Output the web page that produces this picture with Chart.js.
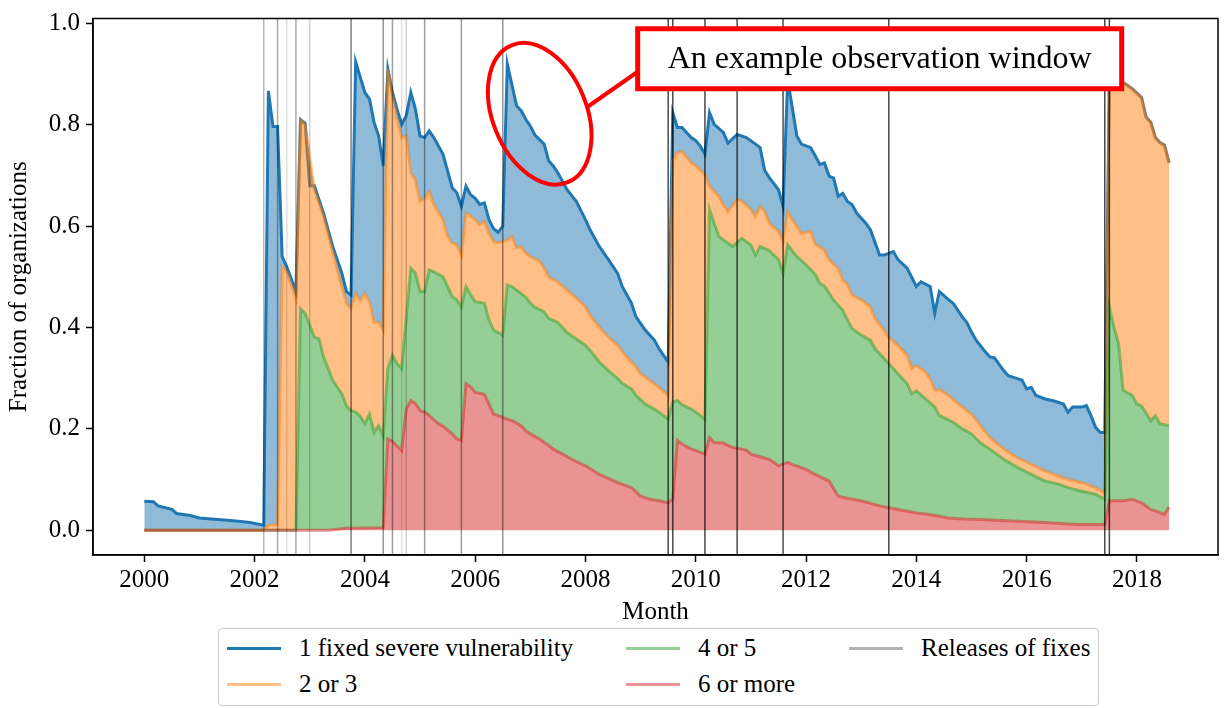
<!DOCTYPE html>
<html>
<head>
<meta charset="utf-8">
<script src="https://cdn.jsdelivr.net/npm/chart.js@4.4.0/dist/chart.umd.min.js"></script>
<style>
  body { margin: 0; background: #fff; }
  #wrap { position: relative; width: 1225px; height: 708px; }
  #legend {
    position: absolute; left: 218px; top: 628px; width: 881px; height: 78px;
    border: 1px solid #ccc; border-radius: 4px; box-sizing: border-box; background: #fff;
    font-family: "Liberation Serif", "Times New Roman", serif; font-size: 25px; color: #000;
  }
  .item { position: absolute; height: 30px; display: flex; align-items: center; white-space: nowrap;
          font-family: "Liberation Serif", "Times New Roman", serif; }
  .swatch { display: inline-block; width: 54px; height: 3px; margin-right: 18px; }
</style>
</head>
<body>
<div id="wrap">
  <canvas id="chart" width="1225" height="708"></canvas>
  <div id="legend"></div>
</div>
<script>
// month index counted from Jan 2000, value = fraction of organizations
var oneFixed = [
  [0,.057],[2,.056],[3,.048],[6,.041],[7,.033],[10,.029],[12,.024],[16,.021],[20,.018],[23,.015],[26,.010],
  [27,.867],[28,.797],[29,.797],[30,.54],[31,.52],[33,.471],[34,.81],[35,.803],[36,.68],[37,.68],[39,.626],[41,.56],[43,.507],[44,.471],[45,.464],
  [46,.924],[48,.864],[49,.851],[50,.805],[51,.778],[52,.719],[53,.91],[54,.864],[55,.831],[56,.801],[57,.818],[58,.864],[59,.831],[60,.778],[61,.775],[62,.788],[63,.775],[65,.742],[66,.709],[67,.676],[68,.666],[69,.639],[70,.679],[71,.662],[72,.655],[73,.643],[74,.646],[75,.613],[76,.595],[77,.588],[78,.6],
  [79,.92],[81,.838],[82,.828],[83,.811],[84,.798],[85,.78],[87,.762],[88,.729],[89,.719],[90,.705],[92,.672],[94,.649],[96,.613],[97,.593],[99,.56],[101,.534],[103,.507],[104,.481],[106,.448],[107,.421],[109,.395],[111,.375],[112,.358],[114,.332],
  [115,.824],[116,.795],[117,.795],[119,.775],[120,.769],[121,.758],[122,.742],[123,.824],[124,.801],[126,.785],[127,.764],[129,.781],[131,.775],[133,.762],[134,.755],[135,.71],[136,.696],[138,.672],[139,.639],
  [140,.89],[142,.778],[143,.762],[145,.755],[146,.739],[147,.722],[148,.725],[149,.699],[150,.695],[151,.659],[152,.665],[153,.649],[154,.643],[155,.626],[157,.606],[158,.593],[160,.543],[161,.543],[163,.55],[164,.534],[166,.517],[168,.481],[169,.49],[171,.481],[172,.428],[173,.471],[175,.455],[176,.448],[178,.421],[179,.41],[180,.391],[181,.375],[183,.352],[184,.342],[185,.34],[187,.315],[188,.305],[190,.299],[191,.296],[192,.279],[193,.282],[194,.266],[196,.259],[198,.255],[200,.249],[201,.233],[202,.243],[204,.243],[205,.246],[206,.226],[207,.203],[208,.193],[209,.193],
  [210,.89],[211,.89],[212,.885],[213,.884],[215,.871],[217,.854],[218,.815],[219,.805],[220,.775],[221,.765],[222,.76],[223,.725]
];
var twoOrThree = [
  [0,0],[26,0],[27,.01],[29,.011],[30,.52],[31,.51],[33,.457],[34,.81],[35,.8],[37,.672],[39,.62],[41,.55],[43,.48],[44,.448],[45,.438],[46,.467],[47,.454],[48,.467],[49,.451],[50,.411],[51,.411],[52,.395],
  [53,.91],[54,.857],[55,.811],[56,.775],[57,.778],[58,.705],[59,.692],[60,.649],[61,.655],[62,.669],[63,.643],[65,.613],[66,.58],[67,.567],[68,.563],[69,.543],[70,.626],[71,.62],[72,.613],[73,.603],[74,.61],[75,.586],[76,.57],[77,.567],[78,.57],[79,.573],[80,.58],[81,.557],[82,.56],[83,.547],[84,.54],[86,.531],[87,.517],[88,.5],[90,.49],[92,.474],[94,.458],[96,.441],[97,.424],[99,.401],[101,.381],[103,.365],[105,.342],[107,.322],[108,.309],[110,.296],[112,.282],[114,.266],
  [115,.73],[116,.745],[117,.748],[119,.725],[120,.72],[122,.702],[123,.679],[125,.659],[126,.643],[127,.629],[129,.653],[130,.65],[132,.633],[133,.619],[134,.639],[135,.629],[136,.606],[138,.59],[139,.57],[140,.629],[141,.613],[143,.586],[145,.59],[146,.565],[148,.553],[149,.534],[151,.517],[152,.494],[153,.485],[154,.464],[156,.455],[158,.441],[159,.418],[161,.395],[162,.381],[164,.365],[166,.345],[167,.319],[168,.325],[170,.312],[171,.299],[172,.276],[173,.278],[175,.266],[178,.243],[180,.229],[182,.206],[184,.183],[187,.16],[190,.143],[193,.13],[196,.117],[199,.107],[201,.1],[204,.094],[207,.084],[209,.074],
  [210,.89],[211,.89],[212,.885],[213,.884],[215,.871],[217,.854],[218,.815],[219,.805],[220,.775],[221,.765],[222,.76],[223,.725]
];
var fourOrFive = [
  [0,0],[33,0],[34,.437],[35,.428],[37,.381],[38,.378],[39,.342],[41,.296],[43,.269],[44,.245],[45,.236],[46,.233],[47,.225],[48,.21],[49,.229],[50,.193],[51,.206],[52,.186],[53,.319],[54,.345],[55,.329],[56,.319],[58,.517],[59,.507],[60,.471],[61,.471],[62,.514],[63,.51],[65,.5],[66,.481],[67,.461],[68,.455],[69,.441],[70,.481],[71,.465],[72,.451],[74,.448],[75,.415],[76,.395],[78,.385],[79,.484],[80,.481],[82,.467],[83,.46],[84,.448],[85,.44],[87,.431],[88,.418],[90,.41],[92,.39],[96,.365],[97,.355],[99,.332],[101,.315],[103,.299],[104,.29],[106,.279],[107,.266],[109,.249],[111,.239],[112,.233],[114,.219],[115,.253],[116,.256],[117,.248],[119,.239],[120,.233],[122,.219],
  [123,.633],[124,.606],[125,.58],[128,.56],[130,.576],[132,.563],[133,.543],[134,.56],[136,.552],[138,.534],[139,.507],[140,.563],[142,.54],[144,.524],[146,.505],[147,.487],[148,.482],[150,.454],[152,.434],[153,.415],[154,.398],[156,.385],[158,.375],[159,.358],[162,.329],[164,.309],[166,.289],[167,.269],[168,.275],[170,.259],[172,.243],[173,.226],[174,.222],[176,.213],[178,.2],[180,.19],[182,.172],[184,.16],[187,.14],[190,.124],[193,.11],[196,.097],[199,.091],[201,.084],[204,.077],[207,.071],[209,.061],
  [210,.441],[211,.401],[212,.368],[213,.276],[215,.266],[216,.249],[217,.245],[219,.216],[220,.226],[221,.21],[223,.206]
];
var sixOrMore = [
  [0,0],[40,0],[44,.004],[52,.005],[53,.18],[54,.175],[56,.157],[57,.239],[58,.256],[59,.25],[60,.236],[61,.233],[62,.226],[64,.21],[65,.205],[67,.19],[68,.18],[69,.177],[70,.289],[71,.283],[72,.272],[74,.268],[75,.249],[76,.229],[77,.226],[79,.219],[80,.216],[82,.206],[83,.196],[84,.19],[86,.18],[88,.167],[89,.16],[91,.15],[93,.14],[96,.127],[99,.11],[103,.094],[106,.084],[108,.067],[110,.061],[112,.058],[114,.054],[115,.061],
  [116,.177],[117,.17],[119,.16],[120,.157],[122,.15],[123,.183],[124,.173],[126,.172],[128,.163],[130,.16],[131,.158],[132,.15],[134,.145],[136,.14],[138,.127],[140,.134],[141,.13],[144,.12],[146,.11],[149,.097],[151,.067],[153,.063],[156,.058],[160,.048],[164,.041],[168,.034],[171,.031],[175,.024],[178,.022],[182,.021],[189,.018],[196,.015],[203,.011],[209,.011],
  [210,.058],[213,.058],[215,.061],[217,.054],[219,.041],[220,.038],[222,.031],[223,.046]
];

// releases of fixes (month index) and how dark each line is drawn
var releaseMonths = [26, 29, 31, 33, 36, 45, 52, 54, 56, 57, 61, 69, 78, 114, 115, 122, 129, 139, 162, 209, 210];
var releaseAlpha  = [.28, .33, .12, .33, .18, .5, .42, .38, .12, .18, .38, .38, .42, .7, .7, .72, .7, .7, .72, .72, .72];

var xTicks = [2000, 2002, 2004, 2006, 2008, 2010, 2012, 2014, 2016, 2018];
var yTicks = [0, 0.2, 0.4, 0.6, 0.8, 1.0];

var callout = { x: 2007.17, y: 0.822, text: "An example observation window" };

function toYear(m) { return 2000 + m / 12; }
function toPoints(series) { return series.map(function (p) { return { x: toYear(p[0]), y: p[1] }; }); }

var font = { family: "'Liberation Serif', serif", size: 25, lineHeight: 1 };

var releasePlugin = {
  id: "releases",
  afterDatasetsDraw: function (chart) {
    var ctx = chart.ctx, a = chart.chartArea, x = chart.scales.x;
    ctx.save();
    ctx.lineWidth = 1.5;
    releaseMonths.forEach(function (m, i) {
      var px = x.getPixelForValue(toYear(m));
      ctx.strokeStyle = "rgba(0,0,0," + releaseAlpha[i] + ")";
      ctx.beginPath();
      ctx.moveTo(px, a.top);
      ctx.lineTo(px, a.bottom);
      ctx.stroke();
    });
    ctx.restore();
  }
};

// red ellipse + boxed label
var calloutPlugin = {
  id: "callout",
  afterDatasetsDraw: function (chart) {
    var ctx = chart.ctx, x = chart.scales.x, y = chart.scales.y;
    var cx = x.getPixelForValue(callout.x), cy = y.getPixelForValue(callout.y);
    ctx.save();
    ctx.strokeStyle = "#ff0000";
    ctx.lineWidth = 4;
    ctx.beginPath();
    ctx.ellipse(cx, cy, 74, 47, 67.7 * Math.PI / 180, 0, 2 * Math.PI);
    ctx.stroke();

    var bx = cx + 98, by = cy - 85, bw = 484, bh = 60;
    ctx.beginPath();
    ctx.moveTo(cx + 48, cy - 7);
    ctx.lineTo(bx, cy - 42);
    ctx.stroke();

    ctx.fillStyle = "#fff";
    ctx.fillRect(bx, by, bw, bh);
    ctx.lineWidth = 5;
    ctx.strokeRect(bx, by, bw, bh);

    ctx.fillStyle = "#000";
    ctx.font = "32px 'Liberation Serif', serif";
    ctx.textAlign = "center";
    ctx.textBaseline = "middle";
    ctx.fillText(callout.text, bx + bw / 2, by + bh / 2 + 1);
    ctx.restore();
  }
};

var framePlugin = {
  id: "frame",
  afterDraw: function (chart) {
    var ctx = chart.ctx, a = chart.chartArea;
    ctx.save();
    ctx.strokeStyle = "#000";
    ctx.lineWidth = 1.5;
    ctx.strokeRect(a.left, a.top, a.right - a.left, a.bottom - a.top);
    ctx.restore();
  }
};

var chart = new Chart(document.getElementById("chart").getContext("2d"), {
  type: "line",
  data: {
    datasets: [
      { label: "1 fixed severe vulnerability", data: toPoints(oneFixed), order: 4, fill: "+1",
        borderColor: "#1f77b4", backgroundColor: "rgba(31,119,180,0.5)" },
      { label: "2 or 3", data: toPoints(twoOrThree), order: 3, fill: "+1",
        borderColor: "rgba(255,127,14,0.5)", backgroundColor: "rgba(255,127,14,0.5)" },
      { label: "4 or 5", data: toPoints(fourOrFive), order: 2, fill: "+1",
        borderColor: "rgba(44,160,44,0.5)", backgroundColor: "rgba(44,160,44,0.5)" },
      { label: "6 or more", data: toPoints(sixOrMore), order: 1, fill: "origin",
        borderColor: "rgba(214,39,40,0.5)", backgroundColor: "rgba(214,39,40,0.5)" }
    ]
  },
  options: {
    responsive: false,
    animation: false,
    elements: { point: { radius: 0 }, line: { borderWidth: 3, tension: 0 } },
    layout: { padding: { top: 14, right: 7, left: 0, bottom: 83 } },
    plugins: { legend: { display: false }, tooltip: { enabled: false } },
    scales: {
      x: {
        type: "linear", min: 1999.07, max: 2019.47,
        afterBuildTicks: function (s) { s.ticks = xTicks.map(function (v) { return { value: v }; }); },
        afterFit: function (s) { s.height = 70; },
        ticks: { color: "#000", font: font, padding: 6, maxRotation: 0, autoSkip: false,
                 callback: function (v) { return String(v); } },
        grid: { drawOnChartArea: false, tickLength: 7, tickWidth: 1.5, tickColor: "#000" },
        border: { color: "#000", width: 1.5 },
        title: { display: true, text: "Month", color: "#000", font: font, padding: 0 }
      },
      y: {
        min: -0.049, max: 1.01,
        afterBuildTicks: function (s) { s.ticks = yTicks.map(function (v) { return { value: v }; }); },
        afterFit: function (s) { s.width = 93; },
        ticks: { color: "#000", font: font, padding: 6,
                 callback: function (v) { return v.toFixed(1); } },
        grid: { drawOnChartArea: false, tickLength: 7, tickWidth: 1.5, tickColor: "#000" },
        border: { color: "#000", width: 1.5 },
        title: { display: true, text: "Fraction of organizations", color: "#000", font: font,
                 padding: { top: 7, bottom: 0 } }
      }
    }
  },
  plugins: [releasePlugin, calloutPlugin, framePlugin]
});

// legend in three columns, filled column by column
var legendEntries = chart.data.datasets.map(function (ds) {
  return { label: ds.label, color: ds.borderColor };
});
legendEntries.push({ label: "Releases of fixes", color: "rgba(0,0,0,0.3)" });
var colLeft = [8, 407, 630], rowTop = [4, 40];
var legendBox = document.getElementById("legend");
legendEntries.forEach(function (e, k) {
  var item = document.createElement("div");
  item.className = "item";
  item.style.left = colLeft[Math.floor(k / 2)] + "px";
  item.style.top = rowTop[k % 2] + "px";
  var sw = document.createElement("span");
  sw.className = "swatch";
  sw.style.background = e.color;
  item.appendChild(sw);
  item.appendChild(document.createTextNode(e.label));
  legendBox.appendChild(item);
});
</script>
</body>
</html>
